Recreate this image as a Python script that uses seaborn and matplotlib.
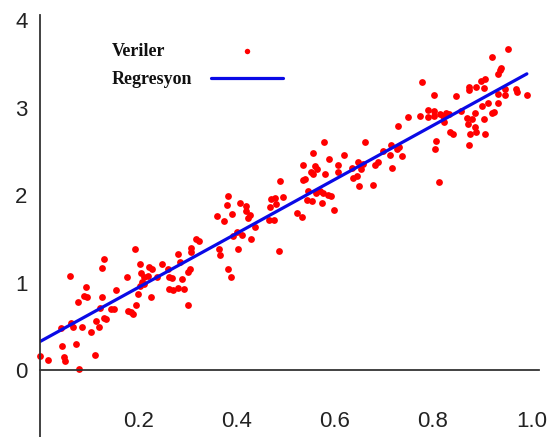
import numpy as np
import pandas as pd
import seaborn as sns
import matplotlib.pyplot as plt

sns.set_style("white")
plt.rcParams['font.family'] = ['Liberation Sans', 'DejaVu Sans']

# veri noktalari
x_data = [0.062, 0.126, 0.093, 0.090, 0.095, 0.077, 0.126, 0.130, 0.114, 0.064,
          0.067, 0.042, 0.086, 0.103, 0.120, 0.074, 0.045, 0.001, 0.016, 0.049,
          0.050, 0.111, 0.079,
          0.193, 0.130, 0.204, 0.222, 0.228, 0.248, 0.261, 0.206, 0.177, 0.212,
          0.220, 0.238, 0.262, 0.207, 0.203, 0.211, 0.155, 0.262, 0.200, 0.225,
          0.195, 0.145, 0.151, 0.122, 0.185, 0.190, 0.180, 0.135,
          0.383, 0.381, 0.391, 0.360, 0.374, 0.392, 0.317, 0.323, 0.308, 0.307,
          0.365, 0.367, 0.281, 0.285, 0.305, 0.301, 0.269, 0.289, 0.383, 0.388,
          0.270, 0.281, 0.294, 0.301,
          0.489, 0.470, 0.478, 0.495, 0.408, 0.420, 0.469, 0.480, 0.419, 0.427,
          0.424, 0.466, 0.476, 0.523, 0.437, 0.402, 0.411, 0.430, 0.403, 0.486,
          0.578, 0.556, 0.619, 0.661, 0.536, 0.560, 0.563, 0.588, 0.607, 0.606,
          0.551, 0.556, 0.580, 0.539, 0.536, 0.635, 0.648, 0.657, 0.653, 0.638,
          0.645, 0.650, 0.545, 0.562, 0.570, 0.577, 0.587, 0.592, 0.543, 0.554,
          0.575, 0.598, 0.533,
          0.750, 0.774, 0.790, 0.790, 0.728, 0.698, 0.714, 0.731, 0.726, 0.713,
          0.737, 0.687, 0.682, 0.717, 0.677,
          0.921, 0.778, 0.898, 0.906, 0.873, 0.874, 0.887, 0.903, 0.801, 0.846,
          0.912, 0.900, 0.801, 0.801, 0.857, 0.921, 0.814, 0.820, 0.826, 0.833,
          0.822, 0.886, 0.904, 0.869, 0.879, 0.872, 0.885, 0.887, 0.875, 0.905,
          0.835, 0.840, 0.807, 0.803, 0.874, 0.812,
          0.953, 0.938, 0.936, 0.933, 0.946, 0.969, 0.970, 0.991, 0.932, 0.946,
          0.933, 0.925]
y_data = [1.08, 1.17, 0.95, 0.85, 0.84, 0.78, 0.83, 0.59, 0.56, 0.54,
          0.49, 0.48, 0.49, 0.44, 0.49, 0.30, 0.27, 0.16, 0.11, 0.15,
          0.10, 0.17, 0.01,
          1.38, 1.27, 1.21, 1.18, 1.16, 1.21, 1.15, 1.11, 1.06, 1.06,
          1.07, 1.06, 1.06, 1.01, 0.96, 0.98, 0.91, 0.93, 0.87, 0.84,
          0.74, 0.70, 0.70, 0.71, 0.66, 0.64, 0.68, 0.58,
          1.99, 1.89, 1.78, 1.76, 1.70, 1.53, 1.50, 1.48, 1.40, 1.35,
          1.39, 1.31, 1.33, 1.23, 1.16, 1.12, 1.05, 1.04, 1.16, 1.06,
          0.92, 0.94, 0.93, 0.74,
          2.16, 1.96, 1.97, 1.98, 1.91, 1.88, 1.87, 1.90, 1.82, 1.77,
          1.74, 1.72, 1.72, 1.80, 1.64, 1.58, 1.54, 1.50, 1.38, 1.36,
          2.61, 2.48, 2.46, 2.61, 2.35, 2.33, 2.30, 2.41, 2.34, 2.26,
          2.26, 2.24, 2.24, 2.19, 2.17, 2.31, 2.38, 2.36, 2.30, 2.20,
          2.22, 2.11, 2.05, 2.03, 2.05, 2.02, 2.00, 1.99, 1.95, 1.93,
          1.91, 1.83, 1.75,
          2.90, 2.91, 2.97, 2.89, 2.79, 2.51, 2.57, 2.55, 2.53, 2.46,
          2.45, 2.38, 2.35, 2.31, 2.12,
          3.58, 3.29, 3.31, 3.33, 3.24, 3.20, 3.24, 3.23, 3.15, 3.14,
          3.06, 3.02, 2.96, 2.91, 2.96, 2.94, 2.93, 2.91, 2.94, 2.93,
          2.84, 2.94, 2.87, 2.88, 2.87, 2.82, 2.78, 2.72, 2.70, 2.70,
          2.72, 2.70, 2.62, 2.53, 2.57, 2.15,
          3.67, 3.46, 3.43, 3.39, 3.22, 3.22, 3.18, 3.15, 3.16, 3.15,
          3.05, 2.95]

x_ticks = [0.2, 0.4, 0.6, 0.8, 1.0]
y_ticks = [0, 1, 2, 3, 4]

df = pd.DataFrame({'x': x_data, 'y': y_data})

fig = plt.figure(figsize=(5.5, 4.37), dpi=100)
ax = fig.add_axes([40/550, 0, 499/550, 422/437])

sns.regplot(data=df, x='x', y='y', ax=ax, ci=None, truncate=True, label='Veriler',
            scatter_kws={'s': 24, 'color': 'red', 'linewidths': 0,
                         'clip_on': False, 'alpha': 1},
            line_kws={'color': '#0a0ae6', 'lw': 2.3, 'label': 'Regresyon'})

ax.set_xlim(0, 1.0157)
ax.set_ylim(-0.767, 4.062)
ax.set_xlabel('')
ax.set_ylabel('')

for s in ['top', 'right']:
    ax.spines[s].set_visible(False)
ax.spines['bottom'].set_position(('data', 0))
ax.spines['left'].set_position(('data', 0))
for s in ['bottom', 'left']:
    ax.spines[s].set_color('#333333')
    ax.spines[s].set_linewidth(1.3)

ax.set_xticks(x_ticks)
ax.set_xticklabels([f'{v:.1f}' for v in x_ticks])
ax.set_yticks(y_ticks)
ax.tick_params(axis='x', direction='inout', length=21, width=1.1, color='#777777',
               pad=19, labelsize=16, labelcolor='#222222')
ax.tick_params(axis='y', direction='in', length=10, width=1.1, color='#777777',
               pad=9, labelsize=16, labelcolor='#222222')

leg = ax.legend(loc='upper left', bbox_to_anchor=(112/550, 1 - 43/437),
                bbox_transform=fig.transFigure, frameon=False, markerfirst=False,
                handlelength=4.0, handletextpad=1.0, labelspacing=0.62,
                borderpad=0, borderaxespad=0, markerscale=0.8,
                prop={'family': 'Liberation Serif', 'weight': 'bold', 'size': 13})
for t in leg.get_texts():
    t.set_color('#111111')

# etiketleri sola hizala
fig.canvas.draw()
rend = fig.canvas.get_renderer()
widths = [t.get_window_extent(rend).width for t in leg.get_texts()]
column = leg._legend_handle_box.get_children()[0]
column.align = 'left'
for row, w in zip(column.get_children(), widths):
    row.sep += (max(widths) - w) * 72 / fig.dpi

fig.savefig('out.png', dpi=100)
